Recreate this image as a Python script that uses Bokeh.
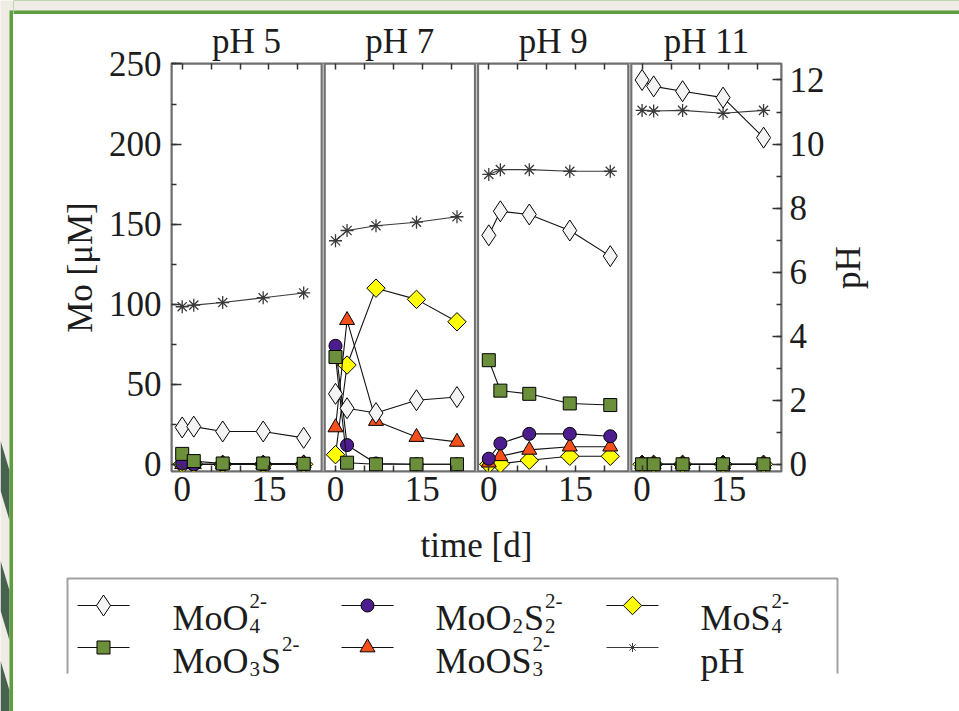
import math
from bokeh.plotting import figure
from bokeh.models import Range1d, LinearAxis, FixedTicker, SingleIntervalTicker
from bokeh.layouts import row, column
from bokeh.embed import file_html
from bokeh.resources import INLINE
from bokeh.core.properties import value

# ---------------- data ----------------
panels = ["pH 5", "pH 7", "pH 9", "pH 11"]
days = [0, 2, 7, 14, 21]
labeled_days = [0, 15]
unlabeled_days = [5, 10, 20]

# Mo species concentrations [uM], one list per panel (pH 5, 7, 9, 11)
moo4 = [[23, 23.5, 20.5, 20.5, 16.5],
        [44, 35, 32, 40, 42],
        [143, 158, 156, 146, 130],
        [240, 236, 233, 229, 204]]
moo3s = [[6.5, 2, 0.5, 0.5, 0.3],
         [67, 1, 0, 0, 0],
         [65, 46, 44, 38, 37],
         [0, 0, 0, 0, 0]]
moo2s2 = [[0.5, 0, 0, 0, 0],
          [74, 12, 0.5, 0, 0],
          [3.5, 13, 19, 19, 17.5],
          [0, 0, 0, 0, 0]]
moos3 = [[0, 0, 0, 0, 0.5],
         [23, 90, 27, 17, 14],
         [1, 5, 9, 11, 11],
         [0, 0, 0, 0, 0]]
mos4 = [[0, 0, 0, 0, 0],
        [6, 62, 110, 103, 89],
        [0, 0.3, 2.5, 5, 5],
        [0, 0, 0, 0, 0]]
# measured pH
ph = [[4.92, 4.97, 5.05, 5.2, 5.35],
      [6.98, 7.3, 7.45, 7.56, 7.73],
      [9.05, 9.2, 9.2, 9.15, 9.15],
      [11.05, 11.03, 11.05, 10.96, 11.05]]

# ---------------- styling / layout constants ----------------
FONT = "Liberation Serif"
INK = "#1c1c1c"
GREEN = "#5c9e40"
BEIGE = "#eeece5"
FRAME = "#6f6f6f"

SPAN = 26.5                 # x distance (days) from one panel to the next
P_LO, P_HI = -1.85, 24.1    # day extent of each panel
Y_LO, Y_HI = -4.5, 250.3
MO_PER_PH = 20.0            # Mo axis units per pH unit
FRAME_W = 612               # plot frame width in pixels
X_LO, X_HI = P_LO, 3 * SPAN + P_HI

PAGE_W, PAGE_H = 959, 711
EDGE_X, EDGE_Y = 13, 14     # page offset of the white card
BAR = 4                     # green card border thickness
CHART_W, CHART_H = 814, 562
LEGEND_H = PAGE_H - EDGE_Y - CHART_H
BORDER_L, BORDER_T, BORDER_B = 158, 49, 105


def no_frame_align(fig):
    if "frame_align" in fig.properties():
        fig.frame_align = False


def plain_fig(w, h, xr, yr, fill):
    f = figure(width=w, height=h, x_range=xr, y_range=yr,
               x_axis_type=None, y_axis_type=None, output_backend="svg",
               toolbar_location=None, min_border=0, outline_line_color=None,
               background_fill_color=fill, border_fill_color=fill)
    no_frame_align(f)
    return f


def panel_x(k):
    return [k * SPAN + d for d in days]


p = figure(width=CHART_W, height=CHART_H,
           x_range=Range1d(X_LO, X_HI),
           y_range=Range1d(Y_LO, Y_HI),
           x_axis_type=None, y_axis_type=None,
           output_backend="svg", toolbar_location=None,
           min_border_left=BORDER_L, min_border_right=CHART_W - BORDER_L - FRAME_W,
           min_border_top=BORDER_T, min_border_bottom=BORDER_B,
           background_fill_color="white", border_fill_color="white",
           outline_line_color=FRAME, outline_line_width=2)
p.extra_y_ranges = {"ph": Range1d(Y_LO / MO_PER_PH, Y_HI / MO_PER_PH)}
no_frame_align(p)


def style_axis(ax):
    ax.axis_line_color = None
    ax.major_label_text_font = FONT
    ax.major_label_text_font_size = "35px"
    ax.major_label_text_color = INK
    ax.axis_label_text_font = FONT
    ax.axis_label_text_font_size = "35px"
    ax.axis_label_text_font_style = "normal"
    ax.axis_label_text_color = INK
    ax.major_tick_line_color = "#333333"
    ax.minor_tick_line_color = "#333333"
    ax.major_tick_line_width = 1.5
    ax.minor_tick_line_width = 1.5
    ax.major_tick_out = 0
    ax.minor_tick_out = 0


# left: Mo concentration
left = LinearAxis(ticker=SingleIntervalTicker(interval=50, num_minor_ticks=2),
                  axis_label="Mo [μM]")
style_axis(left)
left.major_tick_in = 10
left.minor_tick_in = 5
left.major_label_standoff = 10
left.axis_label_standoff = 6
p.add_layout(left, "left")

# right: pH scale (its title sits in the strip to the right)
right = LinearAxis(y_range_name="ph",
                   ticker=SingleIntervalTicker(interval=2, num_minor_ticks=2))
style_axis(right)
right.major_tick_in = 9
right.minor_tick_in = 5
right.major_label_standoff = 8
p.add_layout(right, "right")

# bottom: time, labelled 0 and 15 in every panel
major_x = [k * SPAN + d for k in range(4) for d in labeled_days]
minor_x = [k * SPAN + d for k in range(4) for d in unlabeled_days]
bottom = LinearAxis(ticker=FixedTicker(ticks=major_x, minor_ticks=minor_x),
                    axis_label="time [d]")
bottom.major_label_overrides = {k * SPAN + d: str(d)
                                for k in range(4) for d in labeled_days}
style_axis(bottom)
bottom.major_tick_in = 6
bottom.minor_tick_in = 6
bottom.major_label_standoff = 5
bottom.axis_label_standoff = 22
p.add_layout(bottom, "below")

# top: panel titles plus mirrored day ticks
centers = [k * SPAN + (P_LO + P_HI) / 2 for k in range(4)]
top = LinearAxis(ticker=FixedTicker(ticks=centers, minor_ticks=major_x + minor_x))
top.major_label_overrides = {c: name for c, name in zip(centers, panels)}
style_axis(top)
top.major_tick_in = 0
top.minor_tick_in = 6
top.major_label_standoff = 3
p.add_layout(top, "above")

# panel frames and the grey separators between them
lefts = [k * SPAN + P_LO for k in range(4)]
rights = [k * SPAN + P_HI for k in range(4)]
p.quad(left=rights[:-1], right=lefts[1:], bottom=Y_LO, top=Y_HI,
       fill_color="#c9c9c9", line_color=None)
p.quad(left=lefts, right=rights, bottom=Y_LO, top=Y_HI,
       fill_color=None, line_color=FRAME, line_width=2)

# series styles: marker, size, fill, angle
STYLE = {
    "MoO4": dict(marker="diamond", size=21, fill_color="#f4f4f4", angle=0.0),
    "MoO3S": dict(marker="square", size=13, fill_color="#6b8f3b", angle=0.0),
    "MoO2S2": dict(marker="circle", size=13, fill_color="#4d1d8f", angle=0.0),
    "MoOS3": dict(marker="triangle", size=15, fill_color="#f5501c", angle=0.0),
    "MoS4": dict(marker="square", size=13, fill_color="#ffff00", angle=math.pi / 4),
    "pH": dict(marker="asterisk", size=13, fill_color=None, angle=0.0),
}


def draw_series(values, style, range_name="default", line_color="#111111",
                marker_line="black", marker_width=1.0):
    xs = [panel_x(k) for k in range(4)]
    p.multi_line(xs=xs, ys=values, line_color=line_color, line_width=1.1,
                 y_range_name=range_name)
    p.scatter(x=[x for xk in xs for x in xk],
              y=[v for vk in values for v in vk],
              marker=style["marker"], size=style["size"],
              fill_color=style["fill_color"], angle=style["angle"],
              line_color=marker_line, line_width=marker_width,
              y_range_name=range_name)


# drawing order: pH underneath, molybdate on top
draw_series(ph, STYLE["pH"], range_name="ph", line_color="#3a3a3a",
            marker_line="#3a3a3a", marker_width=1.3)
draw_series(mos4, STYLE["MoS4"])
draw_series(moos3, STYLE["MoOS3"])
draw_series(moo2s2, STYLE["MoO2S2"])
draw_series(moo3s, STYLE["MoO3S"])
draw_series(moo4, STYLE["MoO4"])

# ---------------- right-hand axis title (page coordinates, y negated) ----------------
strip_x0 = EDGE_X + CHART_W
phf = plain_fig(PAGE_W - strip_x0, CHART_H, Range1d(strip_x0, PAGE_W),
                Range1d(-(EDGE_Y + CHART_H), -EDGE_Y), "white")
frame_mid_y = EDGE_Y + BORDER_T + (CHART_H - BORDER_T - BORDER_B) / 2
phf.text(x=[strip_x0 + 21], y=[-frame_mid_y], text=["pH"], angle=math.pi / 2,
         text_font=value(FONT), text_font_size=value("35px"), text_color=INK,
         text_align="center", text_baseline="middle")

# ---------------- legend (page coordinates) ----------------
lg = plain_fig(PAGE_W - EDGE_X, LEGEND_H, Range1d(EDGE_X, PAGE_W),
               Range1d(PAGE_H, PAGE_H - LEGEND_H), "white")

lg.multi_line(xs=[[67, 67, 837, 837]], ys=[[673, 578, 578, 673]],
              line_color="#a0a0a0", line_width=2)

CHAR_EM = {"M": 0.889, "o": 0.5, "O": 0.722, "S": 0.556, "p": 0.5,
           "H": 0.722, "-": 0.333}
BASE_SIZE, SCRIPT_SIZE = 36, 21


def text_width(s, size):
    return sum(CHAR_EM.get(c, 0.5) for c in s) * size


# formula pieces: (base text, subscript, superscript)
legend_entries = [
    ("MoO4", [("MoO", "4", "2-")], 0, 0),
    ("MoO3S", [("MoO", "3", ""), ("S", "", "2-")], 0, 1),
    ("MoO2S2", [("MoO", "2", ""), ("S", "2", "2-")], 1, 0),
    ("MoOS3", [("MoOS", "3", "2-")], 1, 1),
    ("MoS4", [("MoS", "4", "2-")], 2, 0),
    ("pH", [("pH", "", "")], 2, 1),
]
COL_SAMPLE = [103, 367, 632]
COL_TEXT = [172, 435, 700]
ROW_MID = [605, 647]
ROW_BASE = [617, 660]

base_x, base_y, base_t = [], [], []
scr_x, scr_y, scr_t = [], [], []
for key, pieces, c, r in legend_entries:
    st = STYLE[key]
    cx, cy = COL_SAMPLE[c], ROW_MID[r]
    lc = "#3a3a3a" if key == "pH" else "#111111"
    lg.line(x=[cx - 26, cx + 26], y=[cy, cy], line_color=lc, line_width=1.1)
    lg.scatter(x=[cx], y=[cy], marker=st["marker"],
               size=9 if key == "pH" else st["size"],
               fill_color=st["fill_color"], angle=-st["angle"],
               line_color="#3a3a3a" if key == "pH" else "black", line_width=1)
    x = COL_TEXT[c]
    yb = ROW_BASE[r]
    for base, sub, sup in pieces:
        base_x.append(x); base_y.append(yb); base_t.append(base)
        x += text_width(base, BASE_SIZE)
        w = 0
        if sub:
            scr_x.append(x + 1); scr_y.append(yb + 8); scr_t.append(sub)
            w = max(w, text_width(sub, SCRIPT_SIZE))
        if sup:
            scr_x.append(x + 1); scr_y.append(yb - 17); scr_t.append(sup)
            w = max(w, text_width(sup, SCRIPT_SIZE))
        x += w + (2 if w else 0)

lg.text(x=base_x, y=base_y, text=base_t, text_font=value(FONT),
        text_font_size=value(f"{BASE_SIZE}px"), text_color=INK,
        text_baseline="alphabetic", text_align="left")
lg.text(x=scr_x, y=scr_y, text=scr_t, text_font=value(FONT),
        text_font_size=value(f"{SCRIPT_SIZE}px"), text_color=INK,
        text_baseline="alphabetic", text_align="left")

# ---------------- page frame: beige surround, green card edges ----------------
ls = plain_fig(EDGE_X, PAGE_H, Range1d(0, EDGE_X), Range1d(PAGE_H, 0), BEIGE)
ls.patches(xs=[[0, 9, 9, 0], [0, 9, 9, 0], [0, 9, 9, 0]],
           ys=[[440, 470, 520, 490], [560, 590, 640, 610], [660, 690, 711, 711]],
           fill_color="#47624f", line_color=None)
ls.quad(left=EDGE_X - BAR, right=EDGE_X, top=EDGE_Y - BAR, bottom=PAGE_H,
        fill_color=GREEN, line_color=None)

# top edge: green strip with the beige surround painted over its upper part
ts = plain_fig(PAGE_W - EDGE_X, EDGE_Y, Range1d(EDGE_X, PAGE_W),
               Range1d(EDGE_Y, 0), GREEN)
ts.quad(left=EDGE_X, right=PAGE_W, top=0, bottom=EDGE_Y - BAR,
        fill_color=BEIGE, line_color=None)

page = row(ls, column(ts, row(p, phf), lg))

with open("out.html", "w") as f:
    f.write(file_html(page, INLINE))
